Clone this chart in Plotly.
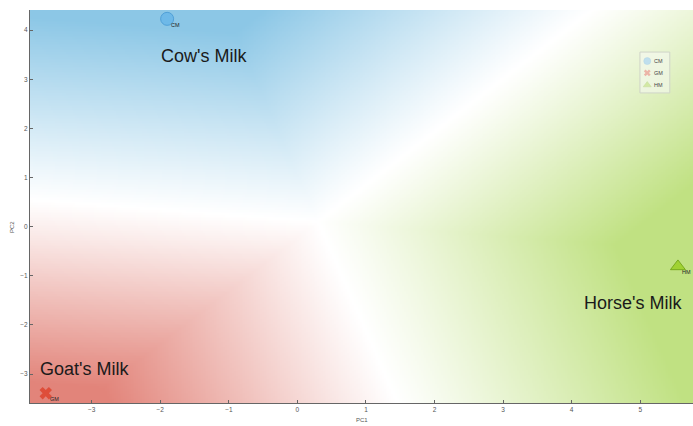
import numpy as np
import plotly.graph_objects as go

# ---- data ----
samples = ["CM", "GM", "HM"]
names = ["Cow's Milk", "Goat's Milk", "Horse's Milk"]
pc1 = [-1.90, -3.67, 5.55]
pc2 = [4.23, -3.39, -0.81]
x_ticks = [-3, -2, -1, 0, 1, 2, 3, 4, 5]
y_ticks = [-3, -2, -1, 0, 1, 2, 3, 4]
x_range = [-3.90, 5.77]
y_range = [-3.59, 4.41]
label_x = [-1.36, -3.10, 4.90]
label_y = [3.48, -2.89, -1.545]

# decision boundary geometry: meeting point and edge points
T = np.array([0.30, 0.10])
L = np.array([-3.90, 0.55])   # blue/red boundary at left edge
B = np.array([1.46, -3.59])   # red/green boundary at bottom edge
U = np.array([4.30, 4.41])    # blue/green boundary at top edge

# ---- compute class scores on a grid ----
d1 = L - T
n1 = np.array([-d1[1], d1[0]]); n1 = n1 / np.linalg.norm(n1)
if n1[1] < 0: n1 = -n1
d2 = B - T
n2 = np.array([d2[1], -d2[0]]); n2 = n2 / np.linalg.norm(n2)
if n2[0] > 0: n2 = -n2
du = U - T
a = -(n2 @ du) / (n1 @ du)
b = 1.0

gx = np.linspace(x_range[0], x_range[1], 360)
gy = np.linspace(y_range[0], y_range[1], 240)
X, Y = np.meshgrid(gx, gy)
PX = X - T[0]; PY = Y - T[1]
f_blue = a * (n1[0] * PX + n1[1] * PY)
f_red = np.zeros_like(X)
f_green = -b * (n2[0] * PX + n2[1] * PY)
F = np.stack([f_blue, f_red, f_green])
srt = np.sort(F, axis=0)
cls = np.argmax(F, axis=0)
t = np.clip((srt[-1] - srt[-2]) / 4.0, 0, 1) ** 1.05

colors_full = ["rgb(140,199,230)", "rgb(226,132,122)", "rgb(192,225,130)"]

fig = go.Figure()
for k in range(3):
    z = np.where(cls == k, t, np.nan)
    fig.add_trace(go.Heatmap(
        x=gx, y=gy, z=z, zmin=0, zmax=1,
        colorscale=[[0, "rgb(255,255,255)"], [1, colors_full[k]]],
        showscale=False, hoverinfo="skip", showlegend=False,
    ))

marker_styles = [
    dict(symbol="circle", size=13, color="rgb(110,185,232)", line=dict(color="rgb(80,160,215)", width=1)),
    dict(symbol="x", size=11, color="rgb(222,78,58)", line=dict(width=0)),
    dict(symbol="triangle-up", size=13, color="rgb(160,210,50)", line=dict(color="rgb(120,170,30)", width=1)),
]
for i in range(3):
    fig.add_trace(go.Scatter(
        x=[pc1[i]], y=[pc2[i]], mode="markers",
        marker=marker_styles[i], name=samples[i], cliponaxis=False, showlegend=False,
    ))
    fig.add_annotation(x=pc1[i], y=pc2[i], text=samples[i], showarrow=False,
                       xanchor="left", yanchor="top", xshift=2, yshift=-1,
                       font=dict(size=5.5, color="#222", family="Liberation Sans"))

for i in range(3):
    fig.add_annotation(x=label_x[i], y=label_y[i], text=names[i], showarrow=False,
                       font=dict(size=18, color="#1a1a1a", family="Liberation Sans"))

# ---- manual legend (plot-area fractions) ----
leg_box = [0.920, 0.789, 0.965, 0.893]
leg_y = [0.870, 0.840, 0.809]
leg_mx = 0.931
leg_tx = 0.938
fig.add_shape(type="rect", xref="paper", yref="paper",
              x0=leg_box[0], y0=leg_box[1], x1=leg_box[2], y1=leg_box[3],
              fillcolor="rgba(245,248,240,0.6)", line=dict(color="#cfd4c8", width=1))
leg_markers = [
    dict(symbol="circle", size=7, color="rgb(110,185,232)", line=dict(color="rgb(80,160,215)", width=0.5)),
    dict(symbol="x", size=6, color="rgb(222,78,58)", line=dict(width=0)),
    dict(symbol="triangle-up", size=7, color="rgb(160,210,50)", line=dict(color="rgb(120,170,30)", width=0.5)),
]
for i in range(3):
    fig.add_trace(go.Scatter(x=[leg_mx], y=[leg_y[i]], xaxis="x2", yaxis="y2",
                             mode="markers", marker=leg_markers[i], showlegend=False,
                             hoverinfo="skip"))
    fig.add_annotation(xref="paper", yref="paper", x=leg_tx, y=leg_y[i], text=samples[i],
                       showarrow=False, xanchor="left", yanchor="middle",
                       font=dict(size=5.5, color="#444", family="Liberation Sans"))

# axis titles
fig.add_annotation(xref="paper", yref="paper", x=0.5, y=-0.043, text="PC1", showarrow=False,
                   xanchor="center", yanchor="middle", font=dict(size=6, color="#555"))
fig.add_annotation(xref="paper", yref="paper", x=-0.027, y=0.448, text="PC2", showarrow=False,
                   textangle=-90, xanchor="center", yanchor="middle", font=dict(size=6, color="#555"))

axis_common = dict(showgrid=False, zeroline=False, showline=True, linecolor="#666", linewidth=1,
                   ticks="inside", ticklen=3, tickcolor="#666",
                   tickfont=dict(size=6.5, color="#555"), automargin=False)

fig.update_layout(
    width=693, height=426,
    margin=dict(l=30, r=0, t=10, b=23),
    paper_bgcolor="white", plot_bgcolor="white",
    font=dict(family="Liberation Sans", size=7, color="#555"),
    showlegend=False,
    xaxis=dict(range=x_range, tickvals=x_ticks, **axis_common),
    yaxis=dict(range=y_range, tickvals=y_ticks, **axis_common),
    xaxis2=dict(range=[0, 1], overlaying="x", visible=False, fixedrange=True),
    yaxis2=dict(range=[0, 1], overlaying="y", visible=False, fixedrange=True),
)

# remove the browser's default 8px body margin so the figure fills the window exactly
fig.write_html("out.html", config={"displayModeBar": False},
               post_script="document.body.style.margin='0';document.body.style.overflow='hidden';")
